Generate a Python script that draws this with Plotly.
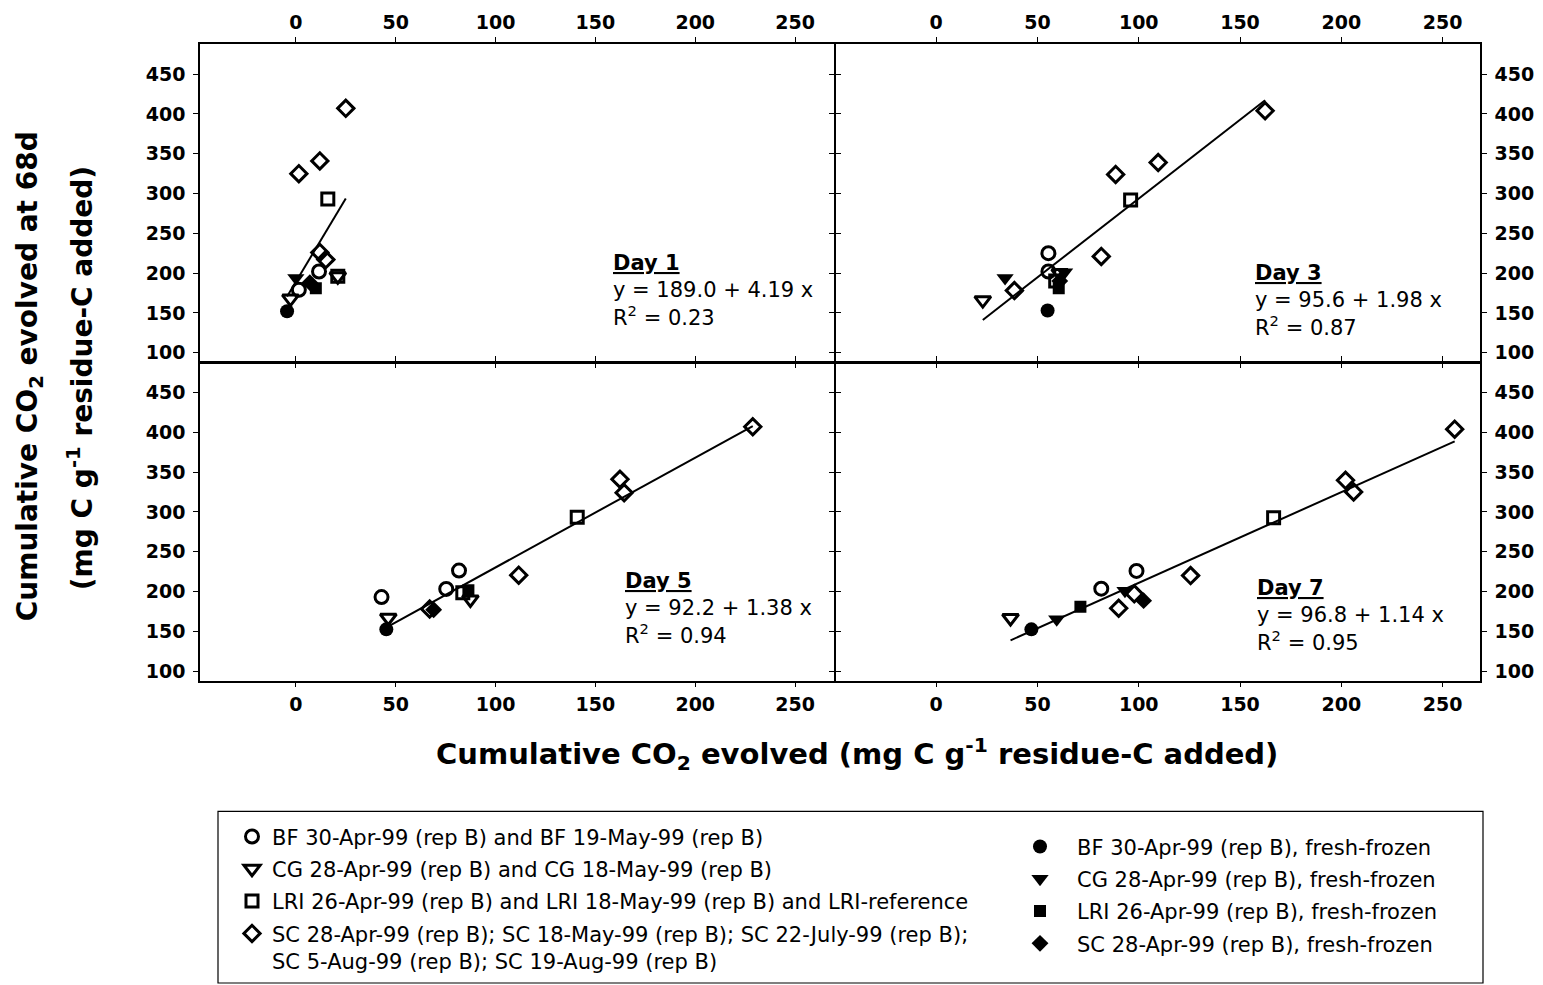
import plotly.graph_objects as go

W, H = 1543, 985
FONT = "DejaVu Sans"

X_TICKS = [0, 50, 100, 150, 200, 250]
Y_TICKS = [100, 150, 200, 250, 300, 350, 400, 450]

# Series keys: open symbols = air-dried residues, filled = fresh-frozen residues
KINDS = ["BF", "CG", "LRI", "SC", "BF-ff", "CG-ff", "LRI-ff", "SC-ff"]
NAMES = [
    "BF 30-Apr-99 (rep B) and BF 19-May-99 (rep B)",
    "CG 28-Apr-99 (rep B) and CG 18-May-99 (rep B)",
    "LRI 26-Apr-99 (rep B) and LRI 18-May-99 (rep B) and LRI-reference",
    "SC 28-Apr-99 (rep B); SC 18-May-99 (rep B); SC 22-July-99 (rep B);<br>SC 5-Aug-99 (rep B); SC 19-Aug-99 (rep B)",
    "BF 30-Apr-99 (rep B), fresh-frozen",
    "CG 28-Apr-99 (rep B), fresh-frozen",
    "LRI 26-Apr-99 (rep B), fresh-frozen",
    "SC 28-Apr-99 (rep B), fresh-frozen",
]

# Day 1
DAY1_X = [25, 12, 1.5, 12, 15, 16, 21, 11.6, 1.5, 21, -2.7, -4.4, 0, 10, 7]
DAY1_Y = [407, 341, 325, 226, 217, 293, 196, 202, 179, 196, 168, 152, 194, 181, 188]
DAY1_KIND = ["SC", "SC", "SC", "SC", "SC", "LRI", "LRI", "BF", "BF", "CG", "CG",
             "BF-ff", "CG-ff", "LRI-ff", "SC-ff"]
DAY1_FIT = (189.0, 4.19, 0.23)

# Day 3
DAY3_X = [162.4, 109.6, 88.6, 81.5, 38.6, 96, 59, 55.4, 55.4, 23, 61, 55, 34, 63.4, 60.5, 61]
DAY3_Y = [404, 339, 324, 221, 178, 292, 190, 225, 202, 166, 200, 153, 194, 201, 181, 190]
DAY3_KIND = ["SC", "SC", "SC", "SC", "SC", "LRI", "LRI", "BF", "BF", "CG", "CG",
             "BF-ff", "CG-ff", "CG-ff", "LRI-ff", "SC-ff"]
DAY3_FIT = (95.6, 1.98, 0.87)

# Day 5
DAY5_X = [228.8, 162.3, 164.4, 111.6, 67, 140.9, 83.6, 81.7, 75.3, 42.9, 87.4, 46.3, 45.3, 86.4, 69]
DAY5_Y = [407, 341, 324, 220.5, 178, 293.4, 198.4, 226.3, 203.2, 193, 190, 167, 152.4, 201.7, 177]
DAY5_KIND = ["SC", "SC", "SC", "SC", "SC", "LRI", "LRI", "BF", "BF", "BF", "CG", "CG",
             "BF-ff", "LRI-ff", "SC-ff"]
DAY5_FIT = (92.2, 1.38, 0.94)

# Day 7
DAY7_X = [256, 202.1, 206.1, 125.6, 90.1, 97.8, 166.6, 98.9, 81.5, 36.7, 47, 59.5, 93.2, 71.2, 102.4]
DAY7_Y = [404, 339.7, 325.1, 220, 179, 197, 292.6, 225.8, 203.5, 166.7, 152.4, 165, 200.8, 180.9, 188.5]
DAY7_KIND = ["SC", "SC", "SC", "SC", "SC", "SC", "LRI", "BF", "BF", "CG",
             "BF-ff", "CG-ff", "CG-ff", "LRI-ff", "SC-ff"]
DAY7_FIT = (96.8, 1.14, 0.95)

SYMBOLS = {
    "BF": ("circle-open", 13), "CG": ("triangle-down-open", 14),
    "LRI": ("square-open", 12), "SC": ("diamond-open", 12.5),
    "BF-ff": ("circle", 14), "CG-ff": ("triangle-down", 15),
    "LRI-ff": ("square", 12), "SC-ff": ("diamond", 13),
}


def px_x(px):
    return px / W


def px_y(py):
    return 1 - py / H


LW = 1.5  # frame line width
# panel geometry (pixels); inner edges offset so shared frame lines coincide
LEFT_X = (200, 835 - LW / 2)
RIGHT_X = (835 + LW / 2, 1480)
TOP_Y = (44, 363 - LW / 2)
BOT_Y = (363 + LW / 2, 682)

panels = [
    ("Day 1", DAY1_X, DAY1_Y, DAY1_KIND, DAY1_FIT, "x", "y", (611, 250)),
    ("Day 3", DAY3_X, DAY3_Y, DAY3_KIND, DAY3_FIT, "x2", "y2", (1253, 260)),
    ("Day 5", DAY5_X, DAY5_Y, DAY5_KIND, DAY5_FIT, "x3", "y3", (623, 568)),
    ("Day 7", DAY7_X, DAY7_Y, DAY7_KIND, DAY7_FIT, "x4", "y4", (1255, 575)),
]

fig = go.Figure()

annotations = []
for pi, (label, xs, ys, kinds, fit, xa, ya, pos) in enumerate(panels):
    a, b, r2 = fit
    x0, x1 = min(xs), max(xs)
    fig.add_trace(go.Scatter(
        x=[x0, x1], y=[a + b * x0, a + b * x1], mode="lines",
        line=dict(color="black", width=2), xaxis=xa, yaxis=ya,
        showlegend=False, hoverinfo="skip"))
    for k, name in zip(KINDS, NAMES):
        px_ = [x for x, kk in zip(xs, kinds) if kk == k]
        py_ = [y for y, kk in zip(ys, kinds) if kk == k]
        sym, size = SYMBOLS[k]
        filled = k.endswith("-ff")
        fig.add_trace(go.Scatter(
            x=px_, y=py_, mode="markers", name=name,
            legend="legend2" if filled else "legend",
            legendgroup=k, showlegend=(pi == 0),
            marker=dict(symbol=sym, size=size, color="black",
                        line=dict(color="black", width=0 if filled else 3)),
            xaxis=xa, yaxis=ya))
    annotations.append(dict(
        xref="paper", yref="paper", x=px_x(pos[0]), y=px_y(pos[1]),
        xanchor="left", yanchor="top", align="left", showarrow=False,
        text=f"<b><u>{label}</u></b><br>y = {a:.1f} + {b:.2f} x<br>R<sup>2</sup> = {r2:.2f}",
        font=dict(family=FONT, size=21, color="black")))

axis_common = dict(
    showline=True, linecolor="black", linewidth=LW, mirror="ticks",
    ticks="outside", ticklen=5, tickwidth=1.2, tickcolor="black",
    showgrid=False, zeroline=False,
    tickfont=dict(family=FONT, size=19, color="black", weight="bold"),
)
xcommon = dict(axis_common, ticklabelstandoff=1, tickvals=X_TICKS)
ycommon = dict(axis_common, ticklabelstandoff=4, tickvals=Y_TICKS)

xdom_l = [px_x(LEFT_X[0]), px_x(LEFT_X[1])]
xdom_r = [px_x(RIGHT_X[0]), px_x(RIGHT_X[1])]
ydom_t = [px_y(TOP_Y[1]), px_y(TOP_Y[0])]
ydom_b = [px_y(BOT_Y[1]), px_y(BOT_Y[0])]
XR_L = [-48, 269.6]
XR_R = [-49.6, 268.5]
YR_T = [88.9, 488]
YR_B = [88, 487.1]

fig.update_layout(
    xaxis=dict(domain=xdom_l, range=XR_L, side="top", anchor="y", **xcommon),
    yaxis=dict(domain=ydom_t, range=YR_T, side="left", anchor="x", **ycommon),
    xaxis2=dict(domain=xdom_r, range=XR_R, side="top", anchor="y2", **xcommon),
    yaxis2=dict(domain=ydom_t, range=YR_T, side="right", anchor="x2", **ycommon),
    xaxis3=dict(domain=xdom_l, range=XR_L, side="bottom", anchor="y3", **xcommon),
    yaxis3=dict(domain=ydom_b, range=YR_B, side="left", anchor="x3", **ycommon),
    xaxis4=dict(domain=xdom_r, range=XR_R, side="bottom", anchor="y4", **xcommon),
    yaxis4=dict(domain=ydom_b, range=YR_B, side="right", anchor="x4", **ycommon),
)

# axis titles
annotations.append(dict(
    xref="paper", yref="paper", x=px_x(857), y=px_y(756), xanchor="center", yanchor="middle",
    showarrow=False, text="<b>Cumulative CO<sub>2</sub> evolved (mg C g<sup>-1</sup> residue-C added)</b>",
    font=dict(family=FONT, size=29, color="black")))
annotations.append(dict(
    xref="paper", yref="paper", x=px_x(29), y=px_y(377), xanchor="center", yanchor="middle",
    textangle=-90, showarrow=False, text="<b>Cumulative CO<sub>2</sub> evolved at 68d</b>",
    font=dict(family=FONT, size=28, color="black")))
annotations.append(dict(
    xref="paper", yref="paper", x=px_x(80), y=px_y(379), xanchor="center", yanchor="middle",
    textangle=-90, showarrow=False, text="<b>(mg C g<sup>-1</sup> residue-C added)</b>",
    font=dict(family=FONT, size=28, color="black")))

legend_font = dict(family=FONT, size=21, color="black")
fig.update_layout(
    width=W, height=H, autosize=False,
    margin=dict(l=0, r=0, t=0, b=0),
    paper_bgcolor="white", plot_bgcolor="white",
    annotations=annotations,
    shapes=[dict(type="rect", xref="paper", yref="paper",
                 x0=px_x(218), x1=px_x(1483), y0=px_y(985), y1=px_y(813),
                 line=dict(color="black", width=1.2))],
    legend=dict(x=px_x(232), y=px_y(818), xanchor="left", yanchor="top",
                font=legend_font, bgcolor="rgba(0,0,0,0)", borderwidth=0,
                itemwidth=30, tracegroupgap=2, valign="top"),
    legend2=dict(x=px_x(1003), y=px_y(828), xanchor="left", yanchor="top",
                 font=legend_font, bgcolor="rgba(0,0,0,0)", borderwidth=0,
                 itemwidth=64, tracegroupgap=2, valign="top"),
)

fig.write_html("out.html")
